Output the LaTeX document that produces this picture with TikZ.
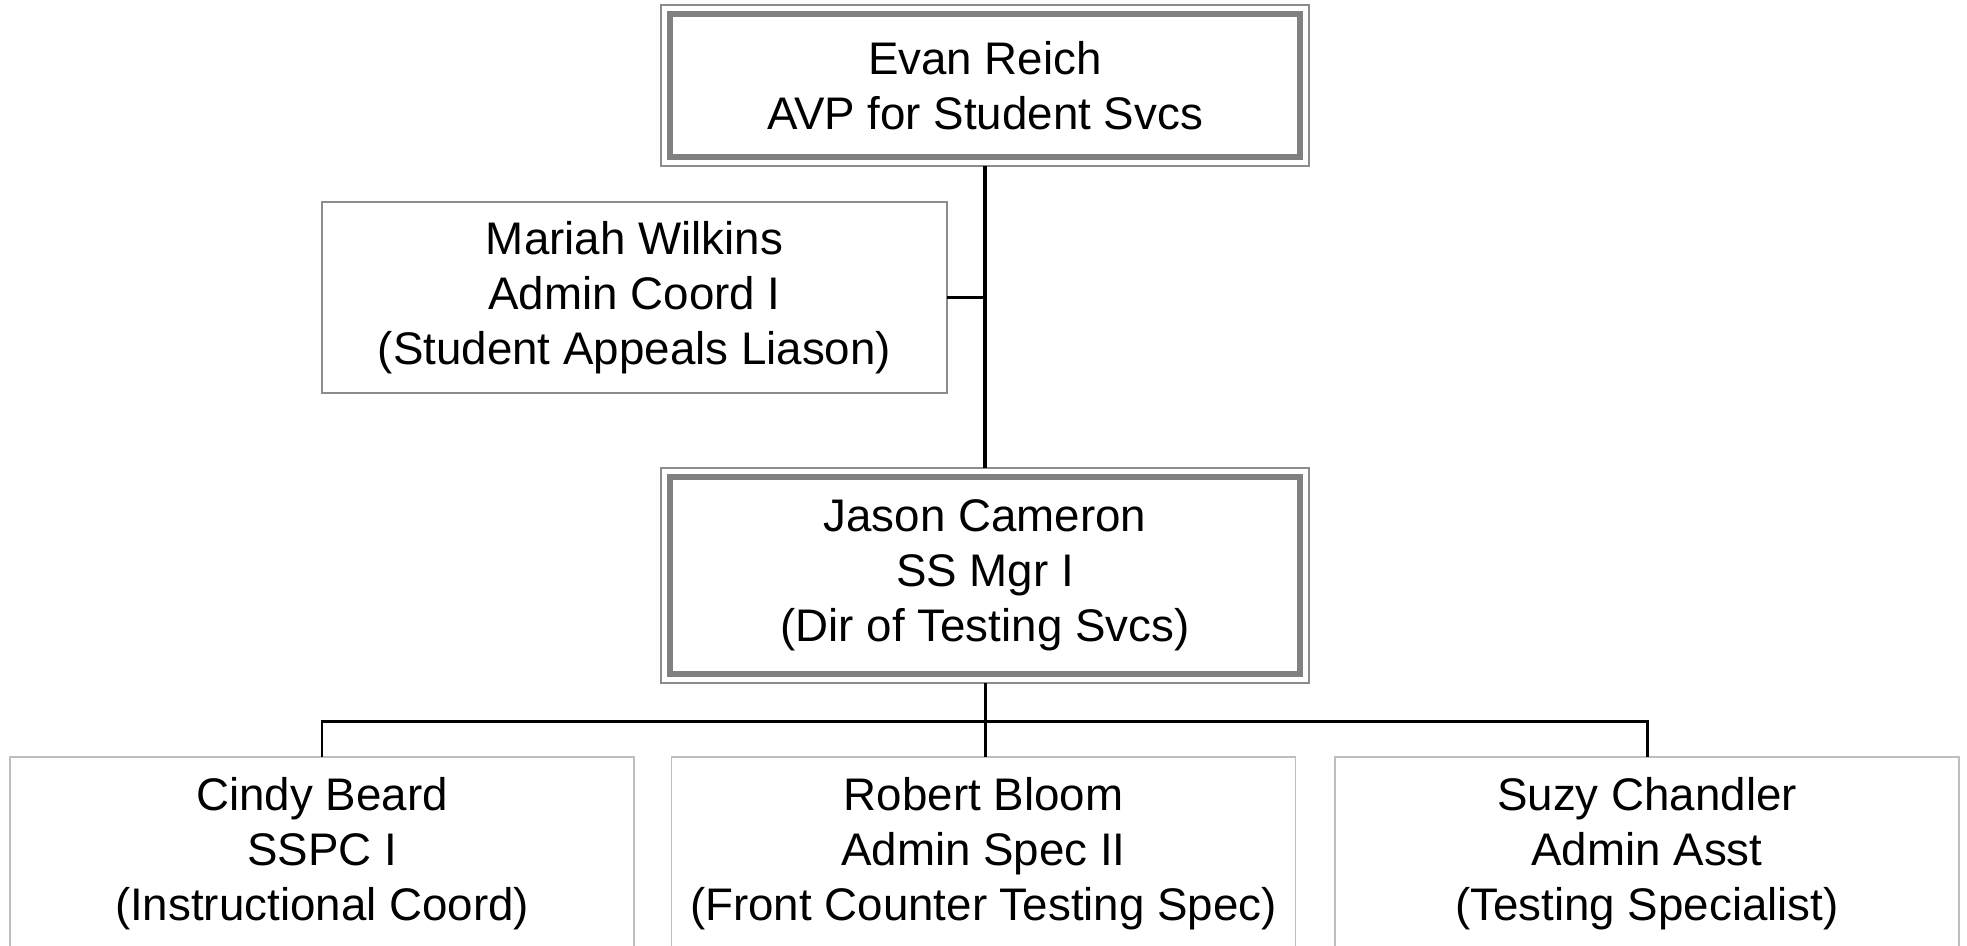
\documentclass[tikz,border=0pt]{standalone}
\usepackage{fontspec}
\setmainfont{Liberation Sans}
\usetikzlibrary{positioning, fit}

\definecolor{framegray}{HTML}{808080}
\definecolor{thingray}{HTML}{8C8C8C}
\definecolor{staffgray}{HTML}{BEBEBE}

\begin{document}
\begin{tikzpicture}[
  font=\fontsize{26}{31.3}\selectfont,
  every node/.style={outer sep=0pt},
  headbox/.style={
    draw=framegray, fill=white, line width=0.12cm,
    minimum width=12.6cm, align=center, inner sep=0pt
  },
  outerframe/.style={
    draw=thingray, line width=0.04cm, inner sep=0.18cm
  },
  sidebox/.style={
    draw=thingray, fill=white, line width=0.03cm,
    minimum width=12.5cm, minimum height=3.82cm, align=center
  },
  staffbox/.style={
    draw=staffgray, fill=white, line width=0.03cm,
    minimum width=12.48cm, minimum height=3.86cm, align=center
  },
  orgline/.style={line width=1.7pt, black},
  trunkline/.style={line width=2.2pt, black}
]
\useasboundingbox (0,0) rectangle (39.34,-18.9);

% ── AVP ─────────────────────────────────────────────────────
\node[headbox, minimum height=2.86cm] (evan) at (19.7,-1.71) {Evan Reich\\AVP for Student Svcs};
\node[outerframe, fit=(evan)] (evanframe) {};

% ── Assistant ───────────────────────────────────────────────
\node[sidebox] (mariah) at (12.69,-5.95) {Mariah Wilkins\\Admin Coord I\\(Student Appeals Liason)};

% ── Director ────────────────────────────────────────────────
\node[headbox, minimum height=3.94cm] (jason) at (19.7,-11.51) {Jason Cameron\\SS Mgr I\\(Dir of Testing Svcs)};
\node[outerframe, fit=(jason)] (jasonframe) {};

% ── Staff ───────────────────────────────────────────────────
\node[staffbox] (cindy)  at (6.44,-17.07)  {Cindy Beard\\SSPC I\\(Instructional Coord)};
\node[staffbox] (robert) at (19.67,-17.07) {Robert Bloom\\Admin Spec II\\(Front Counter Testing Spec)};
\node[staffbox] (suzy)   at (32.94,-17.07) {Suzy Chandler\\Admin Asst\\(Testing Specialist)};

% ── Reporting lines ─────────────────────────────────────────
\coordinate (bus) at (0,-14.42);
\draw[trunkline] (evanframe.south) -- (jasonframe.north);
\draw[orgline] (mariah.east) -- (mariah.east -| evanframe.south);
\draw[orgline] (jasonframe.south) -- (jasonframe.south |- robert.north);
\draw[orgline] (cindy.north) -- (cindy.north |- bus) -- (suzy.north |- bus) -- (suzy.north);

\end{tikzpicture}
\end{document}
